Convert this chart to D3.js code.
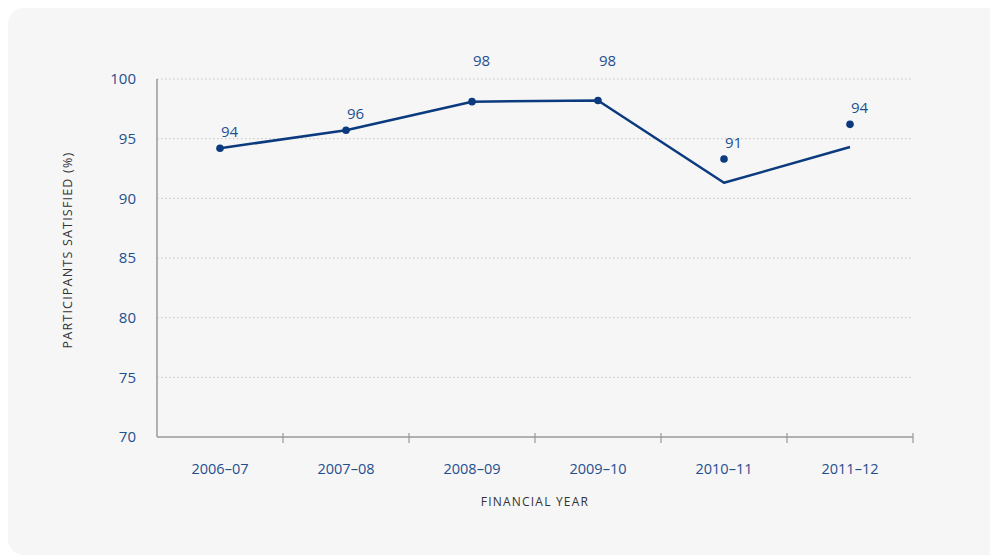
<!DOCTYPE html>
<html>
<head>
<meta charset="utf-8">
<script src="https://cdn.jsdelivr.net/npm/d3@7"></script>
<style>
  body { margin: 0; background: #fff; }
  svg { display: block; }
  text { font-family: "Open Sans", "Noto Sans", sans-serif; }
</style>
</head>
<body>
<svg id="chart" width="990" height="556"></svg>
<script>
// Chart data
const years = ['2006–07', '2007–08', '2008–09', '2009–10', '2010–11', '2011–12'];
const lineValues = [94.2, 95.7, 98.1, 98.2, 91.3, 94.3];
const dotValues = [94.2, 95.7, 98.1, 98.2, 93.3, 96.2];
const valueLabels = ['94', '96', '98', '98', '91', '94'];
const yTicks = [70, 75, 80, 85, 90, 95, 100];

const svg = d3.select('#chart');

// Background panel
svg.append('rect')
  .attr('x', 8).attr('y', 8)
  .attr('width', 1000).attr('height', 547)
  .attr('rx', 16).attr('ry', 16)
  .attr('fill', '#f6f6f6');

const plotLeft = 157, plotRight = 913, plotTop = 79, plotBottom = 437;

const x = d3.scaleBand().domain(years).range([plotLeft, plotRight]);
const y = d3.scaleLinear().domain([70, 100]).range([plotBottom, plotTop]);
const cx = d => x(d) + x.bandwidth() / 2;

const navy = '#0b3a7e';
const labelBlue = '#1f4f8f';

// Grid lines
svg.append('g')
  .selectAll('line')
  .data(yTicks.filter(t => t > 70))
  .join('line')
  .attr('x1', plotLeft).attr('x2', plotRight)
  .attr('y1', d => y(d)).attr('y2', d => y(d))
  .attr('stroke', '#c4c4c4')
  .attr('stroke-width', 1)
  .attr('stroke-dasharray', '1.5,2.5');

// Y axis labels
const yAxis = svg.append('g')
  .attr('transform', `translate(${plotLeft - 21},0)`)
  .call(d3.axisLeft(y).tickValues(yTicks).tickSize(0).tickPadding(0));
yAxis.select('.domain').remove();
yAxis.selectAll('text')
  .attr('fill', labelBlue)
  .attr('font-size', 15);

// Axis lines
svg.append('line')
  .attr('x1', plotLeft).attr('x2', plotLeft)
  .attr('y1', plotTop).attr('y2', plotBottom)
  .attr('stroke', '#9a9a9a').attr('stroke-width', 1.5);
svg.append('line')
  .attr('x1', plotLeft).attr('x2', plotRight)
  .attr('y1', plotBottom).attr('y2', plotBottom)
  .attr('stroke', '#9a9a9a').attr('stroke-width', 1.5);

// Boundary ticks on x axis
svg.append('g')
  .selectAll('line')
  .data(years)
  .join('line')
  .attr('x1', d => x(d) + x.bandwidth())
  .attr('x2', d => x(d) + x.bandwidth())
  .attr('y1', plotBottom - 4).attr('y2', plotBottom + 6)
  .attr('stroke', '#9a9a9a').attr('stroke-width', 1.2);

// X axis labels
const xAxis = svg.append('g')
  .attr('transform', `translate(0,${plotBottom})`)
  .call(d3.axisBottom(x).tickSize(0).tickPadding(27));
xAxis.select('.domain').remove();
xAxis.selectAll('text')
  .attr('fill', labelBlue)
  .attr('font-size', 14.5);

// Axis titles
svg.append('text')
  .attr('x', (plotLeft + plotRight) / 2)
  .attr('y', 506)
  .attr('text-anchor', 'middle')
  .attr('font-size', 12)
  .attr('letter-spacing', 1.2)
  .attr('fill', '#333')
  .text('FINANCIAL YEAR');

svg.append('text')
  .attr('transform', `translate(72,250) rotate(-90)`)
  .attr('text-anchor', 'middle')
  .attr('font-size', 12.5)
  .attr('letter-spacing', 1.2)
  .attr('fill', '#333')
  .text('PARTICIPANTS SATISFIED (%)');

// Series line
const line = d3.line()
  .x((d, i) => cx(years[i]))
  .y(d => y(d));

svg.append('path')
  .datum(lineValues)
  .attr('d', line)
  .attr('fill', 'none')
  .attr('stroke', navy)
  .attr('stroke-width', 2.5)
  .attr('stroke-linejoin', 'round');

// Dots
svg.append('g')
  .selectAll('circle')
  .data(dotValues)
  .join('circle')
  .attr('cx', (d, i) => cx(years[i]))
  .attr('cy', d => y(d))
  .attr('r', 3.8)
  .attr('fill', navy);

// Value labels, pushed above the top grid line when they would collide
svg.append('g')
  .selectAll('text')
  .data(dotValues)
  .join('text')
  .attr('x', (d, i) => cx(years[i]) + 1)
  .attr('y', d => {
    let b = y(d) - 11;
    if (b - 12 < y(100) + 2) b = y(100) - 13;
    return b;
  })
  .attr('font-size', 15)
  .attr('fill', labelBlue)
  .text((d, i) => valueLabels[i]);
</script>
</body>
</html>
